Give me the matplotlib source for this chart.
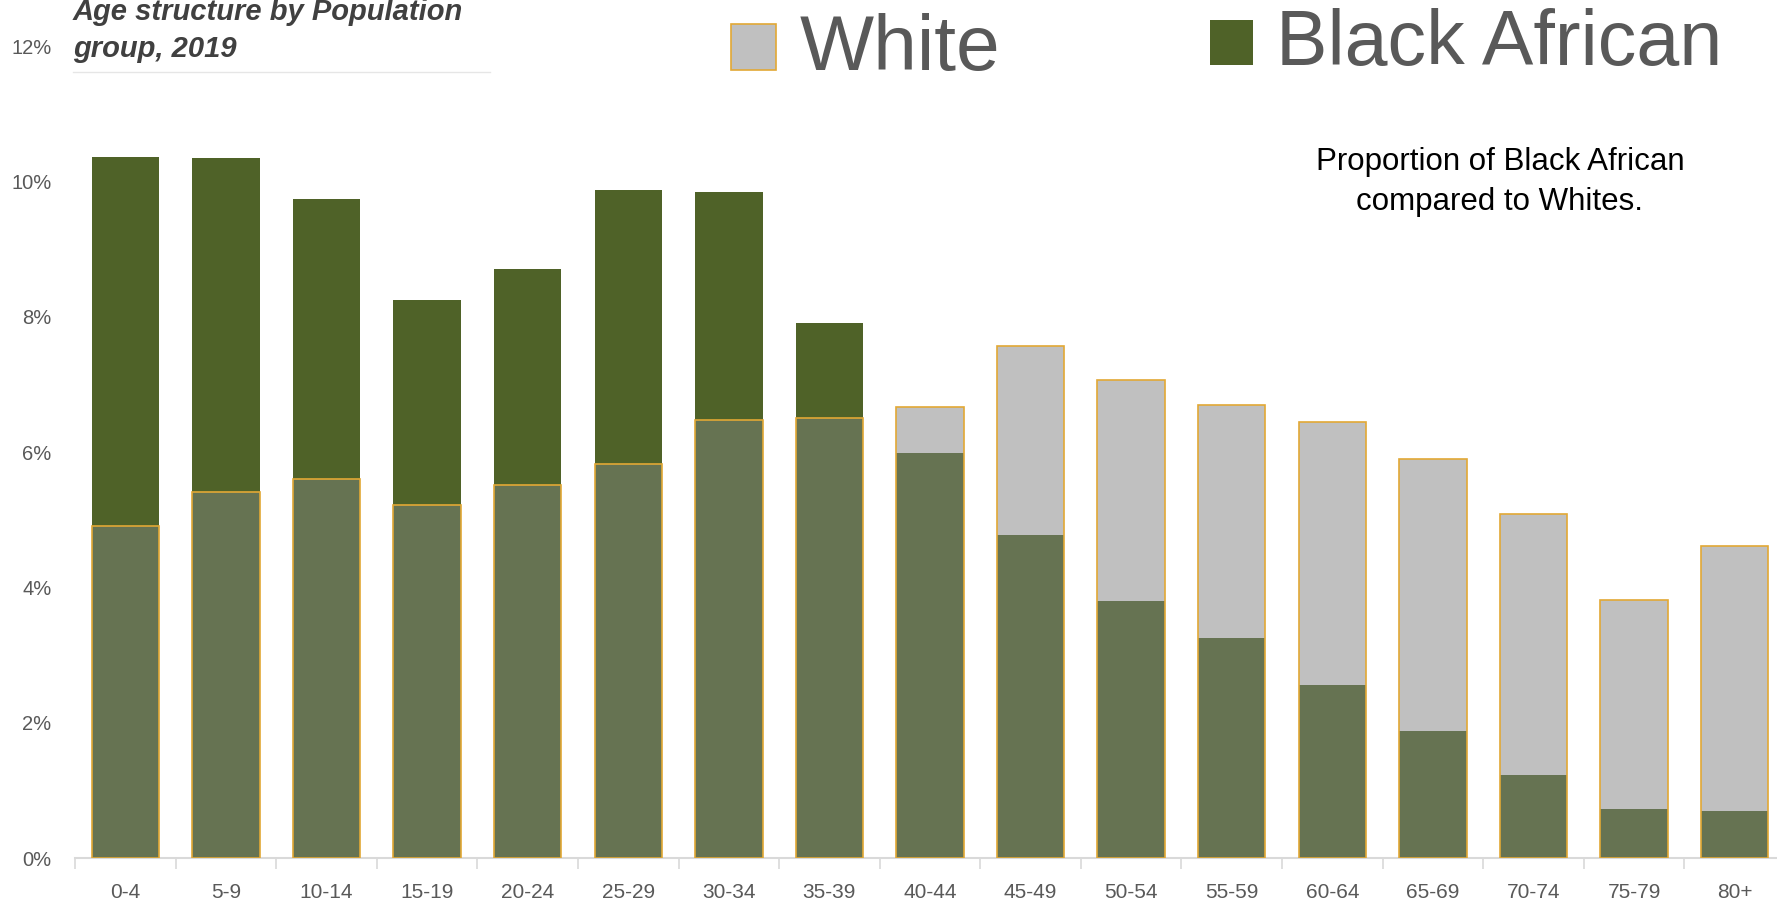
import numpy as np
import matplotlib
matplotlib.use('Agg')
import matplotlib.pyplot as plt
from matplotlib.patches import Rectangle

plt.rcParams['font.family'] = ['Liberation Sans', 'DejaVu Sans']

age_groups = ['0-4', '5-9', '10-14', '15-19', '20-24', '25-29', '30-34', '35-39', '40-44',
              '45-49', '50-54', '55-59', '60-64', '65-69', '70-74', '75-79', '80+']
# share of each population group (%)
white = [4.91, 5.41, 5.60, 5.21, 5.51, 5.83, 6.47, 6.50, 6.67,
         7.56, 7.06, 6.70, 6.44, 5.90, 5.09, 3.82, 4.61]
black_african = [10.36, 10.34, 9.74, 8.25, 8.70, 9.87, 9.84, 7.91, 5.98,
                 4.78, 3.80, 3.25, 2.56, 1.88, 1.22, 0.72, 0.69]
y_ticks = [0, 2, 4, 6, 8, 10, 12]

col_white = '#C0C0C0'
col_black = '#4F6228'
col_overlap = '#667352'
col_edge = '#E2A835'
col_text = '#595959'

W, H = 1777, 899
fig = plt.figure(figsize=(W / 100, H / 100), dpi=100)
ax = fig.add_axes([75 / W, 41 / H, 1710 / W, 812 / H])

x = np.arange(len(age_groups))
wb = np.array(white)
bb = np.array(black_african)
bw = 0.67

ax.bar(x, bb, bw, color=col_black, zorder=2)
ax.bar(x, wb, bw, color=col_white, zorder=3)
ax.bar(x, np.minimum(wb, bb), bw, color=col_overlap, zorder=4)
ax.bar(x, wb, bw, fill=False, edgecolor=col_edge, linewidth=1.2, zorder=5)

ax.set_xlim(-0.5, len(age_groups) - 0.5)
ax.set_ylim(0, 12)

for s in ['top', 'right', 'left']:
    ax.spines[s].set_visible(False)
ax.spines['bottom'].set_color('#D9D9D9')
ax.spines['bottom'].set_linewidth(1.5)

ax.set_xticks(x)
ax.set_xticklabels(age_groups)
ax.set_xticks(np.arange(len(age_groups) + 1) - 0.5, minor=True)
ax.tick_params(axis='x', which='major', length=0, pad=18, labelsize=15, labelcolor=col_text)
ax.tick_params(axis='x', which='minor', length=8, width=1.2, color='#D9D9D9')

ax.set_yticks(y_ticks)
ax.set_yticklabels([f'{v}%' for v in y_ticks])
ax.tick_params(axis='y', length=0, pad=17, labelsize=14.5, labelcolor=col_text)

# title block
fig.text(73 / W, 1 - 20 / H, 'Age structure by Population', fontsize=21, fontweight='bold',
         fontstyle='italic', color='#404040', va='baseline')
fig.text(73 / W, 1 - 57 / H, 'group, 2019', fontsize=21, fontweight='bold',
         fontstyle='italic', color='#404040', va='baseline')
fig.add_artist(plt.Line2D([73 / W, 490 / W], [1 - 72 / H, 1 - 72 / H], color='#E6E6E6', lw=1))

# legend
fig.add_artist(Rectangle((731 / W, 1 - 70 / H), 45 / W, 46 / H, transform=fig.transFigure,
                         facecolor=col_white, edgecolor=col_edge, lw=1.2))
fig.text(800 / W, 1 - 70 / H, 'White', fontsize=56.5, color=col_text, va='baseline')
fig.add_artist(Rectangle((1210 / W, 1 - 65 / H), 43 / W, 45 / H, transform=fig.transFigure,
                         facecolor=col_black, edgecolor='none'))
fig.text(1276 / W, 1 - 65 / H, 'Black African', fontsize=55.5, color=col_text, va='baseline')

fig.text(1500 / W, 1 - 170 / H, 'Proportion of Black African', fontsize=22.5, color='black',
         ha='center', va='baseline')
fig.text(1500 / W, 1 - 210 / H, 'compared to Whites.', fontsize=22.5, color='black',
         ha='center', va='baseline')

fig.savefig('out.png', dpi=100)
